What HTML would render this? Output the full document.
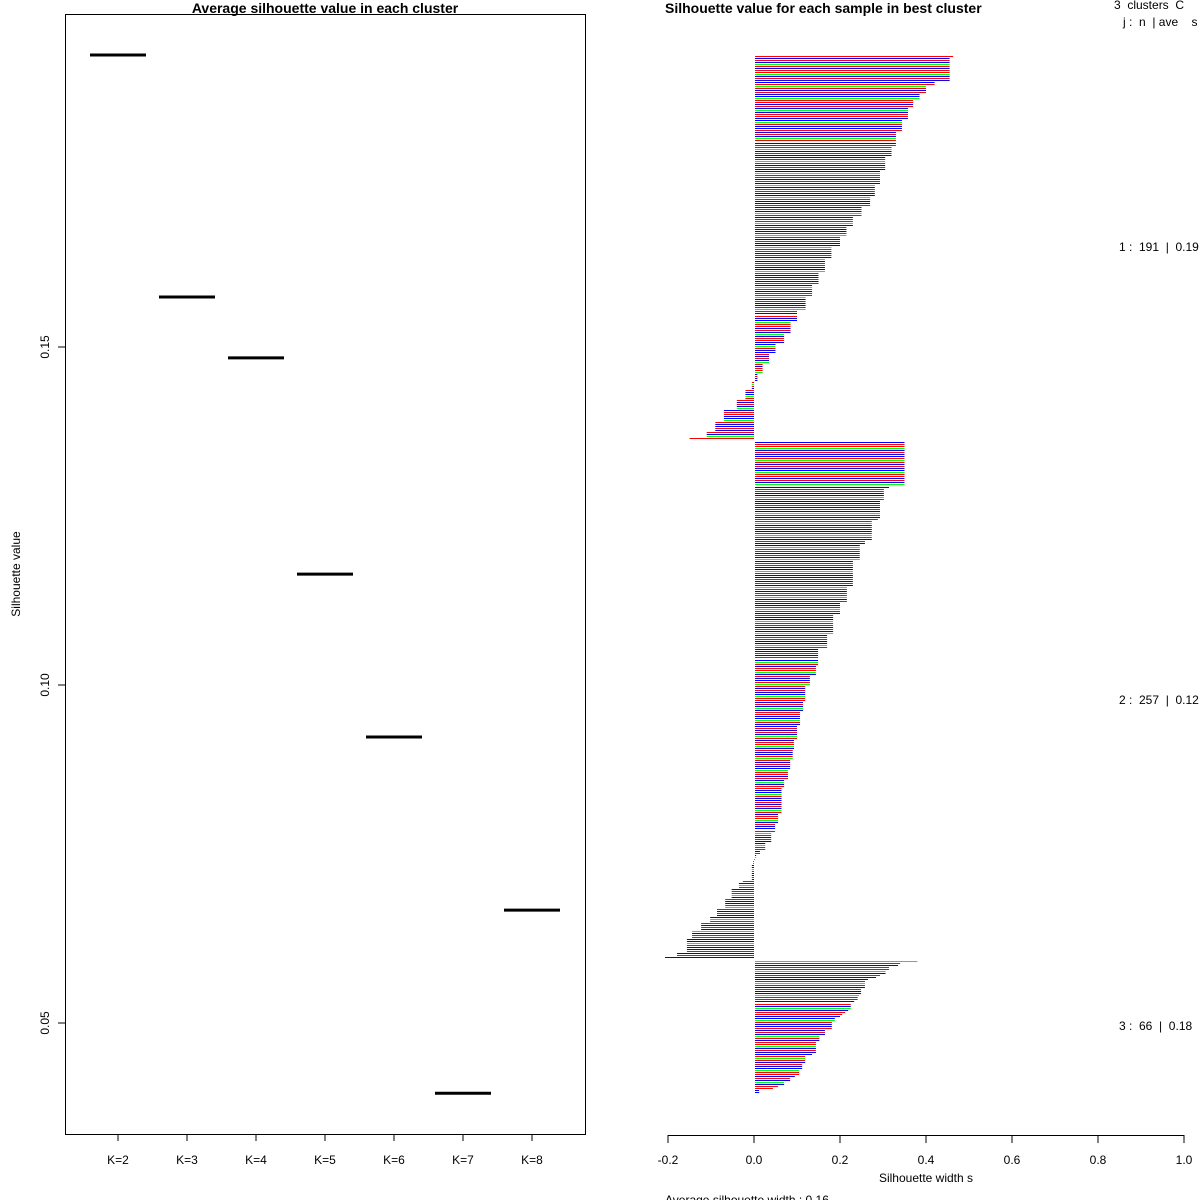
<!DOCTYPE html>
<html><head><meta charset="utf-8"><style>
body{margin:0;background:#fff;}
svg{display:block;font-family:"Liberation Sans",sans-serif;}
text{white-space:pre;}
</style></head><body>
<svg id="chart" width="1200" height="1200" viewBox="0 0 1200 1200">
<rect width="1200" height="1200" fill="#fff"/>
<g id="left"></g>
<g id="right"></g>
</svg>
<script>
// Left panel data
const kLabels = ["K=2","K=3","K=4","K=5","K=6","K=7","K=8"];
const avgSil = [0.1932,0.1574,0.1484,0.1164,0.0923,0.0396,0.0667];
const yTicks = [0.05,0.10,0.15];
// Right panel data: runs of [value, count] per cluster (sorted silhouette widths)
const cluster1Runs = [[0.463,1],[0.455,12],[0.42,2],[0.40,4],[0.385,3],[0.37,4],[0.358,6],[0.344,6],[0.33,7],[0.32,5],[0.305,7],[0.293,7],[0.281,6],[0.27,5],[0.25,5],[0.23,5],[0.215,5],[0.20,5],[0.18,6],[0.165,7],[0.15,6],[0.135,6],[0.12,7],[0.10,5],[0.085,6],[0.07,5],[0.05,5],[0.035,5],[0.02,5],[0.008,4],[-0.005,4],[-0.02,5],[-0.04,5],[-0.07,6],[-0.09,5],[-0.11,3],[-0.15,1]];
const cluster2Runs = [[0.35,22],[0.314,1],[0.302,6],[0.293,9],[0.288,1],[0.274,10],[0.258,2],[0.246,8],[0.23,13],[0.216,8],[0.2,6],[0.184,10],[0.17,7],[0.149,8],[0.144,5],[0.13,5],[0.119,8],[0.114,5],[0.107,7],[0.1,7],[0.093,5],[0.09,5],[0.084,5],[0.079,5],[0.07,4],[0.064,13],[0.056,5],[0.049,4],[0.04,5],[0.026,4],[0.014,2],[0.005,2],[0.001,1],[-0.002,2],[-0.005,8],[-0.026,1],[-0.035,3],[-0.052,5],[-0.067,5],[-0.086,4],[-0.102,3],[-0.123,4],[-0.144,4],[-0.156,7],[-0.179,2],[-0.207,1]];
const cluster3Runs = [[0.38,1],[0.34,1],[0.335,1],[0.314,2],[0.306,2],[0.293,1],[0.284,1],[0.265,1],[0.258,4],[0.249,3],[0.244,1],[0.241,2],[0.233,1],[0.225,3],[0.219,1],[0.212,1],[0.205,1],[0.2,1],[0.188,2],[0.181,4],[0.165,3],[0.152,3],[0.144,6],[0.135,1],[0.119,4],[0.112,3],[0.105,3],[0.095,1],[0.084,2],[0.07,2],[0.056,1],[0.044,1],[0.012,2]];
const clusterLabels = ["1 :  191  |  0.19","2 :  257  |  0.12","3 :  66  |  0.18"];
const xTicks = [-0.2,0,0.2,0.4,0.6,0.8,1.0];
const xTickLabels = ["-0.2","0.0","0.2","0.4","0.6","0.8","1.0"];
const colorSeq = "RBRBGRBRRGBRBBRGRBRBBGRRBRBGBRRBBGRBB";

const NS="http://www.w3.org/2000/svg";
function mk(parent,tag,attrs,text){const e=document.createElementNS(NS,tag);for(const k in attrs)e.setAttribute(k,attrs[k]);if(text!==undefined)e.textContent=text;parent.appendChild(e);return e;}

// ---- Left panel ----
const L=document.getElementById('left');
const yL=v=>685-(v-0.10)*6760;
const xL=i=>118+i*69;
let e;
e=mk(L,'rect',{x:65.5,y:14.5,width:520,height:1120,fill:'none',stroke:'#000'});


e=mk(L,'text',{x:325,y:13,'text-anchor':'middle','font-size':14,'font-weight':'bold'},'Average silhouette value in each cluster');


e=mk(L,'text',{x:0,y:0,'text-anchor':'middle','font-size':12,transform:'translate(20,574) rotate(-90)'},'Silhouette value');


yTicks.forEach((t,i)=>{
  const y=yL(t);
  e=mk(L,'line',{x1:58,x2:65,y1:y,y2:y,stroke:'#000'});
  
  
  e=mk(L,'text',{x:0,y:0,'text-anchor':'middle','font-size':12,transform:`translate(49,${y}) rotate(-90)`},t.toFixed(2));
  
  
});
kLabels.forEach((k,i)=>{
  const x=xL(i);
  e=mk(L,'line',{x1:x,x2:x,y1:1134,y2:1141,stroke:'#000'});
  
  
  e=mk(L,'text',{x:x,y:1164,'text-anchor':'middle','font-size':12},k);
  
  
  e=mk(L,'line',{x1:x-28,x2:x+28,y1:yL(avgSil[i]),y2:yL(avgSil[i]),stroke:'#000','stroke-width':3});
  
  
});

// ---- Right panel ----
const R=document.getElementById('right');
const xR=v=>754+v*430;
const pitch=2.0117, y0=56;
const colMap={R:'#ff0000',B:'#0000ff',G:'#00ff00'};
let row=0, ci=0;
const clusters=[cluster1Runs,cluster2Runs,cluster3Runs];
const labelY=[247,700,1026];
clusters.forEach((runs,c)=>{
  runs.forEach(([v,n])=>{
    for(let j=0;j<n;j++){
      const y=Math.round(y0+row*pitch)+0.5;
      const col=colMap[colorSeq[ci%colorSeq.length]];
      const x1=v>=0?755:xR(v), x2=v>=0?xR(v):754;
      e=mk(R,'line',{x1:x1,x2:x2,y1:y,y2:y,stroke:col,'stroke-width':1});
      
      
      row++; ci++;
    }
  });
  row++; // gap between clusters
  e=mk(R,'text',{x:1119,y:labelY[c]+4,'font-size':12},clusterLabels[c]);
  
  
});
e=mk(R,'text',{x:665,y:13,'font-size':14,'font-weight':'bold'},'Silhouette value for each sample in best cluster');


e=mk(R,'text',{x:1114,y:9,'font-size':12},'3  clusters  C');


e=mk(R,'text',{x:1123,y:26,'font-size':12},'j :  n  | ave    s');


e=mk(R,'line',{x1:668,x2:1184,y1:1135.5,y2:1135.5,stroke:'#000'});


xTicks.forEach((t,i)=>{
  const x=xR(t);
  e=mk(R,'line',{x1:x,x2:x,y1:1135,y2:1143,stroke:'#000'});
  
  
  e=mk(R,'text',{x:x,y:1164,'text-anchor':'middle','font-size':12},xTickLabels[i]);
  
  
});
e=mk(R,'text',{x:926,y:1182,'text-anchor':'middle','font-size':12},'Silhouette width s');


e=mk(R,'text',{x:665,y:1204,'font-size':12},'Average silhouette width : 0.16');


</script>
</body></html>
